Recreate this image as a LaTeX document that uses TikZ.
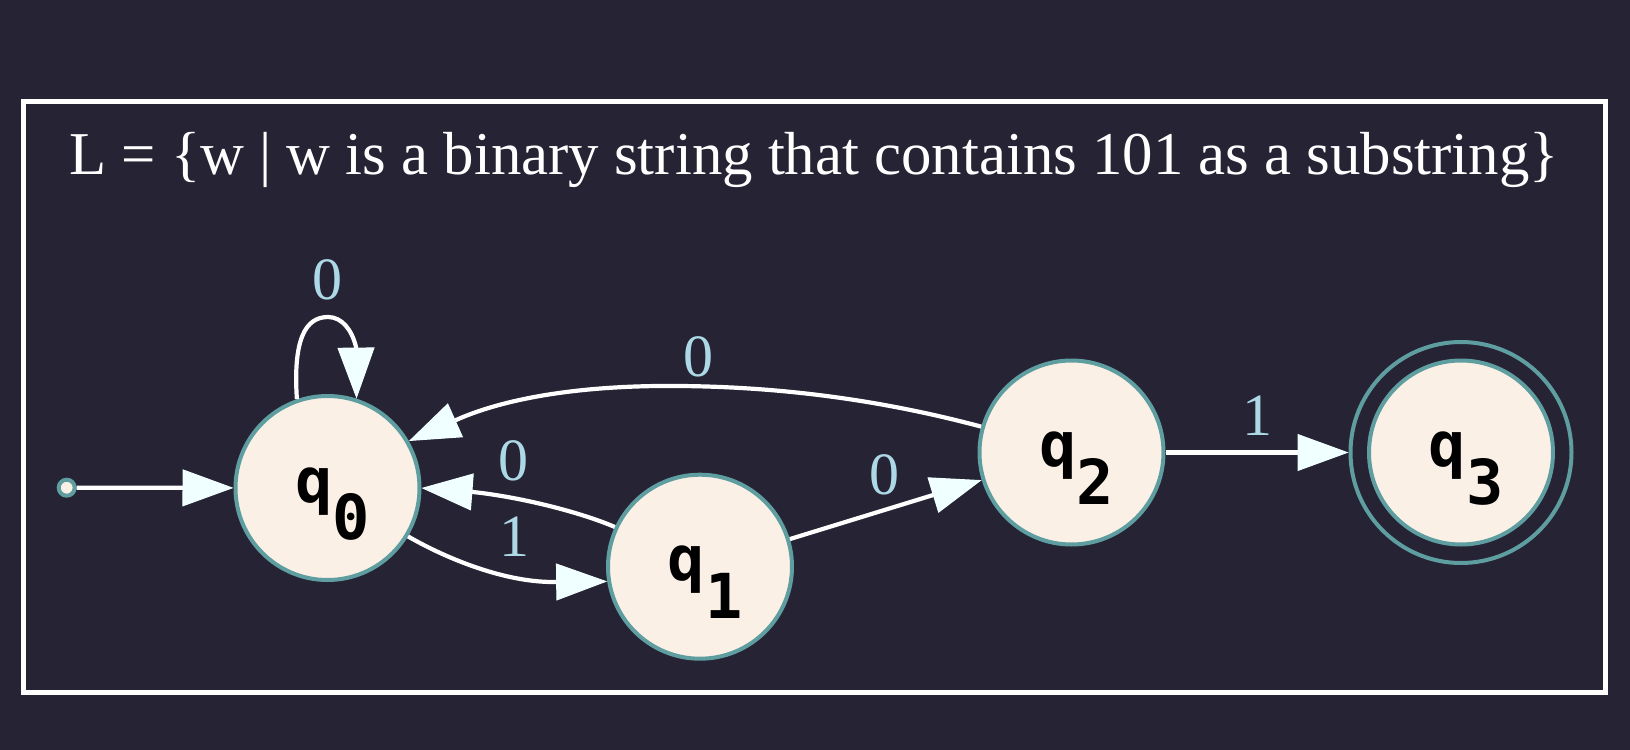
\documentclass[tikz,border=0pt]{standalone}
\usepackage{fontspec}
\setmainfont{Liberation Serif}
\newfontfamily\statefont{DejaVu Sans Mono}
\usetikzlibrary{arrows.meta}
\definecolor{bg}{HTML}{262335}
\definecolor{linenc}{HTML}{FAF0E6}
\definecolor{cadet}{HTML}{5F9EA0}
\definecolor{azurec}{HTML}{F0FFFF}
\definecolor{lblue}{HTML}{ADD8E6}
\begin{document}
\begin{tikzpicture}[x=0.5pt,y=-0.5pt,
  state/.style={circle, draw=cadet, fill=linenc, line width=2pt, minimum size=92pt,
    inner sep=0pt, outer sep=1pt,
    font=\statefont\bfseries\fontsize{31pt}{31pt}\selectfont,
    text height=22pt, text depth=8pt},
  ring/.style={circle, draw=cadet, line width=2pt, minimum size=110.5pt, inner sep=0pt, outer sep=1pt},
  initpt/.style={circle, draw=cadet, fill=linenc, line width=2pt, minimum size=8pt, inner sep=0pt, outer sep=1pt},
  edge/.style={draw=white, line width=2.1pt, -{Triangle[length=25.5pt,width=18.5pt,line width=0.5pt,color=azurec]}},
  lbl/.style={text=lblue, font=\fontsize{30pt}{30pt}\selectfont, inner sep=0pt},
  frame/.style={draw=white, line width=2.1pt}
]
\fill[bg] (0,0) rectangle (1630,750);
\useasboundingbox (0,0) rectangle (1630,750);
\draw[frame] (23.5,101.5) rectangle (1605.5,692.5);
\node[anchor=base, text=white, font=\fontsize{30.4pt}{36pt}\selectfont, inner sep=0pt] (title) at (814,174)
  {L = \{w | w is a binary string that contains 101 as a substring\}};

\node[initpt] (init) at (66.7,487.7) {};
\node[state] (q0) at (327.5,488) {\hspace*{5pt}q\raisebox{-18.8pt}{0}};
\node[state] (q1) at (700,566.7) {\hspace*{5pt}q\raisebox{-18.8pt}{1}};
\node[state] (q2) at (1071.5,452.5) {\hspace*{5pt}q\raisebox{-18.8pt}{2}};
\node[ring] (q3o) at (1461,452.5) {};
\node[state] (q3) at (1461,452.5) {\hspace*{5pt}q\raisebox{-18.8pt}{3}};

\draw[edge] (init) -- (q0);
\draw[edge] (q0.109) .. controls (293,340) and (305,317) .. (328,317)
  .. controls (342,317) and (352,330) .. (356,347) -- (q0.72);
\draw[edge] (q2.164) .. controls (900,405) and (800,387) .. (680,386)
  .. controls (590,385) and (510,396) .. (456,420) -- (q0.30);
\draw[edge] (q1.155) .. controls (580,512) and (520,497) .. (473,492) -- (q0.0);
\draw[edge] (q0.-31) .. controls (440,555) and (500,582) .. (553,582) -- (q1.-171);
\draw[edge] (q1) -- (q2);
\draw[edge] (q2) -- (q3o);

\node[lbl] (l00) at (327.5,280) {0};
\node[lbl] (l20) at (698.5,357) {0};
\node[lbl] (l10) at (513,461) {0};
\node[lbl] (l01) at (514,537) {1};
\node[lbl] (l12) at (884.6,475) {0};
\node[lbl] (l23) at (1257.8,415.8) {1};
\end{tikzpicture}
\end{document}
